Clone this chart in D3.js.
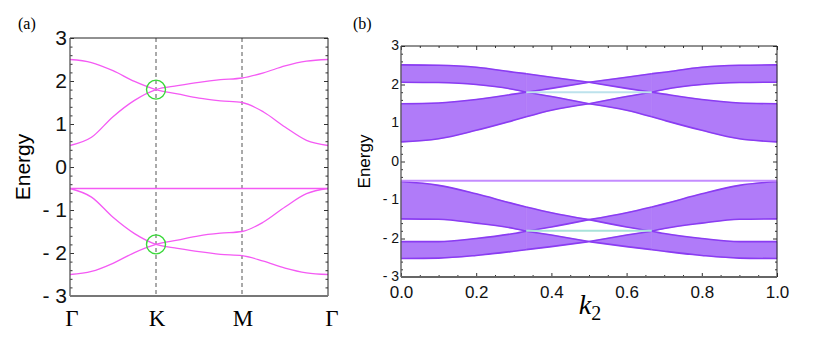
<!DOCTYPE html>
<html>
<head>
<meta charset="utf-8">
<script src="https://cdn.jsdelivr.net/npm/d3@7"></script>
<style>
  body { margin: 0; background: #fff; }
  svg { display: block; }
</style>
</head>
<body>
<script>

// ---- panel (a) data: bands along the path Γ-K-M-Γ ----
var pathLabels = ["Γ", "K", "M", "Γ"];
var pathPos = [0, 1, 2, 3];
var kPath = [0, 0.25, 0.5, 0.75, 1, 1.25, 1.5, 1.75, 2, 2.25, 2.5, 2.75, 3];
var bandA = [2.50, 2.43, 2.24, 1.99, 1.80, 1.70, 1.60, 1.54, 1.50, 1.28, 0.93, 0.62, 0.50];
var bandB = [0.50, 0.69, 1.17, 1.55, 1.80, 1.89, 1.97, 2.03, 2.07, 2.19, 2.35, 2.46, 2.50];
var bandC = [-0.50, -0.70, -1.17, -1.55, -1.80, -1.89, -1.97, -2.03, -2.06, -2.19, -2.35, -2.46, -2.50];
var bandD = [-2.50, -2.43, -2.24, -1.99, -1.80, -1.70, -1.60, -1.54, -1.50, -1.28, -0.93, -0.62, -0.50];
var bandFlat = [-0.5, -0.5, -0.5, -0.5, -0.5, -0.5, -0.5, -0.5, -0.5, -0.5, -0.5, -0.5, -0.5];
var diracE = [1.8, -1.8];

// ---- panel (b) data: ribbon band edges vs k2 ----
var k2 = [0, 0.1, 0.2, 0.3, 0.333, 0.4, 0.5, 0.6, 0.667, 0.7, 0.8, 0.9, 1];
var b1Top = [2.51, 2.50, 2.45, 2.32, 2.28, 2.19, 2.06, 2.19, 2.28, 2.32, 2.45, 2.50, 2.51];
var b1Bot = [2.06, 2.05, 2.00, 1.87, 1.80, 1.90, 2.06, 1.90, 1.80, 1.87, 2.00, 2.05, 2.06];
var b2Top = [1.50, 1.52, 1.61, 1.75, 1.80, 1.69, 1.50, 1.69, 1.80, 1.75, 1.61, 1.52, 1.50];
var b2Bot = [0.51, 0.59, 0.81, 1.07, 1.16, 1.33, 1.50, 1.33, 1.16, 1.07, 0.81, 0.59, 0.51];
var b3Top = [-0.52, -0.62, -0.84, -1.10, -1.18, -1.33, -1.51, -1.33, -1.18, -1.10, -0.84, -0.62, -0.52];
var b3Bot = [-1.49, -1.50, -1.60, -1.74, -1.81, -1.70, -1.51, -1.70, -1.81, -1.74, -1.60, -1.50, -1.49];
var b4Top = [-2.08, -2.08, -2.00, -1.87, -1.81, -1.91, -2.08, -1.91, -1.81, -1.87, -2.00, -2.08, -2.08];
var b4Bot = [-2.52, -2.51, -2.44, -2.33, -2.29, -2.21, -2.08, -2.21, -2.29, -2.33, -2.44, -2.51, -2.52];
var flatE = -0.5;
var edgeE = [1.8, -1.8];
var edgeRange = [0.333, 0.667];

var yMajor = [-3, -2, -1, 0, 1, 2, 3];
var xMajorB = [0, 0.2, 0.4, 0.6, 0.8, 1.0];

var sans = "'Liberation Sans', Arial, sans-serif";
var serif = "'Liberation Serif', 'Times New Roman', serif";

var svg = d3.select("body").append("svg")
    .attr("width", 814)
    .attr("height", 342);

function fmtE(d) {
    return d < 0 ? "- " + (-d) : String(d);
}

function tickAxis(g, axis, tr, size, fmt, fs) {
    var a = g.append("g").attr("transform", tr)
        .call(axis.tickSize(-size).tickSizeOuter(0).tickPadding(fs ? 3 : 0).tickFormat(fmt || ""));
    a.select(".domain").remove();
    a.selectAll(".tick line").attr("stroke", "#333");
    a.attr("font-family", sans).attr("font-size", fs || 10).attr("fill", "#111");
    a.selectAll("text").attr("fill", "#111");
    return a;
}

// ================= panel (a) =================
var xA = d3.scaleLinear().domain([0, 3]).range([70, 328]);
var yA = d3.scaleLinear().domain([-3, 3]).range([296, 38]);
var gA = svg.append("g");

var minorA = d3.range(-3, 3.001, 0.2).filter(function (v) { return Math.abs(v - Math.round(v)) > 1e-6; });

tickAxis(gA, d3.axisLeft(yA).tickValues(minorA), "translate(70,0)", 2.5);
tickAxis(gA, d3.axisRight(yA).tickValues(minorA), "translate(328,0)", 2.5);
tickAxis(gA, d3.axisLeft(yA).tickValues(yMajor), "translate(70,0)", 4, fmtE, 21);
tickAxis(gA, d3.axisRight(yA).tickValues(yMajor), "translate(328,0)", 4, "", 0);

// dashed high-symmetry lines
gA.selectAll("line.sym")
    .data(pathPos.slice(1, 3))
    .enter().append("line")
    .attr("class", "sym")
    .attr("x1", function (d) { return xA(d); })
    .attr("x2", function (d) { return xA(d); })
    .attr("y1", yA(3))
    .attr("y2", yA(-3))
    .attr("stroke", "#555")
    .attr("stroke-width", 1)
    .attr("stroke-dasharray", "4,3");

var lineA = d3.line()
    .x(function (d) { return xA(d[0]); })
    .y(function (d) { return yA(d[1]); })
    .curve(d3.curveMonotoneX);

[bandA, bandB, bandC, bandD, bandFlat].forEach(function (band) {
    gA.append("path")
        .datum(d3.zip(kPath, band))
        .attr("d", lineA)
        .attr("fill", "none")
        .attr("stroke", "#f45af4")
        .attr("stroke-width", 1.3);
});

gA.selectAll("circle.dirac")
    .data(diracE)
    .enter().append("circle")
    .attr("class", "dirac")
    .attr("cx", xA(1))
    .attr("cy", function (d) { return yA(d); })
    .attr("r", 9.5)
    .attr("fill", "none")
    .attr("stroke", "#3ad83a")
    .attr("stroke-width", 1.4);

// frame
gA.append("line").attr("x1", 70).attr("x2", 328).attr("y1", 38).attr("y2", 38).attr("stroke", "#222");
gA.append("line").attr("x1", 328).attr("x2", 328).attr("y1", 38).attr("y2", 296).attr("stroke", "#222");
gA.append("line").attr("x1", 70).attr("x2", 70).attr("y1", 38).attr("y2", 296).attr("stroke", "#555").attr("stroke-width", 1.3);
gA.append("line").attr("x1", 70).attr("x2", 328).attr("y1", 296).attr("y2", 296).attr("stroke", "#777").attr("stroke-width", 2);

gA.selectAll("text.path")
    .data(pathLabels)
    .enter().append("text")
    .attr("class", "path")
    .attr("x", function (d, i) { return xA(pathPos[i]) + (i === 0 ? 2 : i === 3 ? 4 : 1); })
    .attr("y", 326)
    .attr("text-anchor", "middle")
    .attr("font-family", serif)
    .attr("font-size", 23)
    .text(function (d) { return d; });

gA.append("text")
    .attr("transform", "translate(30," + yA(0) + ") rotate(-90)")
    .attr("text-anchor", "middle")
    .attr("font-family", sans)
    .attr("font-size", 21)
    .text("Energy");

svg.append("text").attr("x", 18).attr("y", 29)
    .attr("font-family", serif).attr("font-size", 16).text("(a)");

// ================= panel (b) =================
var xB = d3.scaleLinear().domain([0, 1]).range([401, 777]);
var yB = d3.scaleLinear().domain([-3, 3]).range([277, 46]);
var gB = svg.append("g");

var minorBx = d3.range(0, 1.001, 0.05).filter(function (v) { return Math.abs(v * 5 - Math.round(v * 5)) > 1e-6; });

tickAxis(gB, d3.axisLeft(yB).tickValues(minorA), "translate(401,0)", 2);
tickAxis(gB, d3.axisRight(yB).tickValues(minorA), "translate(777,0)", 2);
tickAxis(gB, d3.axisLeft(yB).tickValues(yMajor), "translate(401,0)", 4, fmtE, 14).selectAll("text").attr("dx", 1).attr("dy", "0.28em");
tickAxis(gB, d3.axisRight(yB).tickValues(yMajor), "translate(777,0)", 4, "", 0);
tickAxis(gB, d3.axisBottom(xB).tickValues(minorBx), "translate(0,277)", 2);
tickAxis(gB, d3.axisTop(xB).tickValues(minorBx), "translate(0,46)", 2);
tickAxis(gB, d3.axisBottom(xB).tickValues(xMajorB), "translate(0,277)", 4, d3.format(".1f"), 17).selectAll("text").attr("dy", "1.05em");
tickAxis(gB, d3.axisTop(xB).tickValues(xMajorB), "translate(0,46)", 4, "", 0);

var segs = [[0, 4], [4, 6], [6, 8], [8, 12]];
var bands = [[b1Top, b1Bot], [b2Top, b2Bot], [b3Top, b3Bot], [b4Top, b4Bot]];

var areaB = function (top, bot) {
    return d3.area()
        .x(function (i) { return xB(k2[i]); })
        .y0(function (i) { return yB(bot[i]); })
        .y1(function (i) { return yB(top[i]); })
        .curve(d3.curveMonotoneX);
};
var edgeB = function (vals) {
    return d3.line()
        .x(function (i) { return xB(k2[i]); })
        .y(function (i) { return yB(vals[i]); })
        .curve(d3.curveMonotoneX);
};

bands.forEach(function (b) {
    segs.forEach(function (s) {
        var idx = d3.range(s[0], s[1] + 1);
        gB.append("path")
            .attr("d", areaB(b[0], b[1])(idx))
            .attr("fill", "#b07bf9")
            .attr("stroke", "#b07bf9")
            .attr("stroke-width", 0.6);
    });
});
bands.forEach(function (b) {
    b.forEach(function (vals) {
        segs.forEach(function (s) {
            var idx = d3.range(s[0], s[1] + 1);
            gB.append("path")
                .attr("d", edgeB(vals)(idx))
                .attr("fill", "none")
                .attr("stroke", "#8a3cf2")
                .attr("stroke-width", 1.6);
        });
    });
});

gB.append("line")
    .attr("x1", xB(0)).attr("x2", xB(1))
    .attr("y1", yB(flatE)).attr("y2", yB(flatE))
    .attr("stroke", "#c48cff").attr("stroke-width", 2);

gB.selectAll("line.edge")
    .data(edgeE)
    .enter().append("line")
    .attr("class", "edge")
    .attr("x1", xB(edgeRange[0])).attr("x2", xB(edgeRange[1]))
    .attr("y1", function (d) { return yB(d); })
    .attr("y2", function (d) { return yB(d); })
    .attr("stroke", function (d, i) { return i === 0 ? "#bde2ec" : "#a9e2da"; })
    .attr("stroke-width", 2);

gB.append("line").attr("x1", 401).attr("x2", 777).attr("y1", 46).attr("y2", 46).attr("stroke", "#222");
gB.append("line").attr("x1", 777).attr("x2", 777).attr("y1", 46).attr("y2", 277).attr("stroke", "#222");
gB.append("line").attr("x1", 401).attr("x2", 401).attr("y1", 46).attr("y2", 277).attr("stroke", "#555").attr("stroke-width", 1.3);
gB.append("line").attr("x1", 401).attr("x2", 777).attr("y1", 277).attr("y2", 277).attr("stroke", "#666").attr("stroke-width", 2);

gB.append("text")
    .attr("transform", "translate(370," + yB(0) + ") rotate(-90)")
    .attr("text-anchor", "middle")
    .attr("font-family", sans)
    .attr("font-size", 17)
    .text("Energy");

var kLabel = gB.append("text")
    .attr("x", 590)
    .attr("y", 314)
    .attr("text-anchor", "middle")
    .attr("font-family", serif);
kLabel.append("tspan").attr("font-style", "italic").attr("font-size", 28).text("k");
kLabel.append("tspan").attr("font-size", 20).attr("dy", 6).text("2");

svg.append("text").attr("x", 353).attr("y", 29)
    .attr("font-family", serif).attr("font-size", 16).text("(b)");

</script>
</body>
</html>
